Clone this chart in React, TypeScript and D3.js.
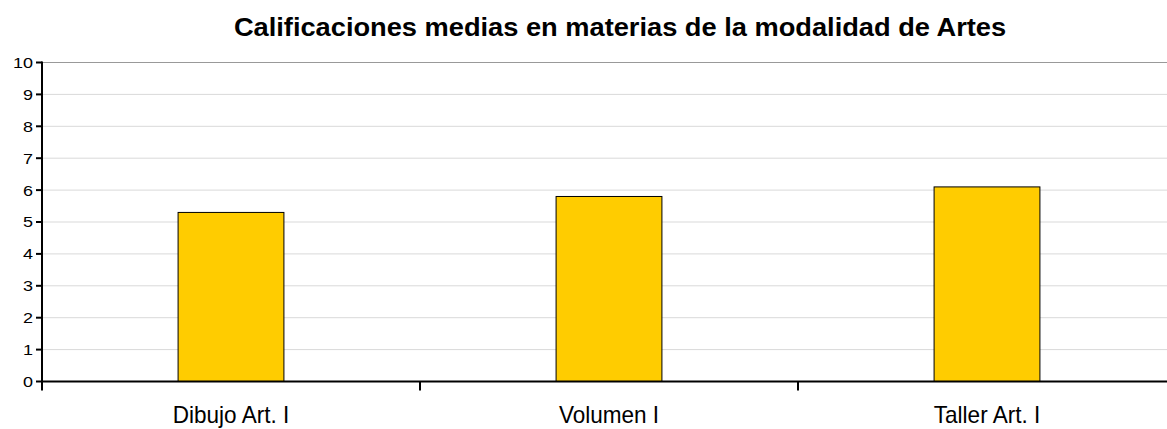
import React from "react";
import * as d3 from "d3";

const categories = ["Dibujo Art. I", "Volumen I", "Taller Art. I"];
const values = [5.3, 5.8, 6.1];
const yTicks = [0, 1, 2, 3, 4, 5, 6, 7, 8, 9, 10];
const title = "Calificaciones medias en materias de la modalidad de Artes";

export default function App() {
  const W = 1167, H = 429;
  const left = 42, right = 1176, top = 62.5, bottom = 381.5;
  const x = d3.scaleBand<string>().domain(categories).range([left, right]).paddingInner(0).paddingOuter(0);
  const y = d3.scaleLinear().domain([0, 10]).range([bottom, top]);
  const barW = x.bandwidth() * 0.28;
  const font = "Arial, 'Liberation Sans', sans-serif";
  return (
    <svg width={W} height={H} style={{ position: "absolute", left: 0, top: 0 }} fontFamily={font}>
      <rect x={0} y={0} width={W} height={H} fill="#fff" />
      <g transform="translate(620,36) scale(1.09,1)">
        <text x={0} y={0} textAnchor="middle" fontSize={25} fontWeight="bold" fill="#000">{title}</text>
      </g>
      {yTicks.filter(t => t > 0).map(t => (
        <line key={t} x1={left} x2={W} y1={y(t)} y2={y(t)} stroke={t === 10 ? "#999" : "#d9d9d9"} strokeWidth={1} />
      ))}
      {categories.map((c, i) => {
        const cx = (x(c) as number) + x.bandwidth() / 2;
        return (
          <rect key={c} x={cx - barW / 2} y={y(values[i])} width={barW} height={y(0) - y(values[i])}
            fill="#ffcc00" stroke="#000" strokeWidth={1} />
        );
      })}
      <line x1={left} x2={left} y1={top - 1} y2={bottom + 9} stroke="#000" strokeWidth={2} />
      {yTicks.map(t => (
        <g key={t}>
          <line x1={left - 6} x2={left} y1={y(t)} y2={y(t)} stroke="#000" strokeWidth={2} />
          <g transform={`translate(${left - 9},${y(t)}) scale(1.2,1)`}>
            <text x={0} y={0} dy="0.36em" textAnchor="end" fontSize={15} fill="#000">{t}</text>
          </g>
        </g>
      ))}
      <line x1={left - 1} x2={W} y1={bottom} y2={bottom} stroke="#000" strokeWidth={2} />
      {categories.map(c => (
        <line key={"t" + c} x1={(x(c) as number) + x.bandwidth()} x2={(x(c) as number) + x.bandwidth()} y1={bottom} y2={bottom + 9} stroke="#000" strokeWidth={2} />
      ))}
      {categories.map(c => (
        <g key={"l" + c} transform={`translate(${(x(c) as number) + x.bandwidth() / 2},423) scale(0.98,1)`}>
          <text x={0} y={0} textAnchor="middle" fontSize={23} fill="#000">{c}</text>
        </g>
      ))}
    </svg>
  );
}
